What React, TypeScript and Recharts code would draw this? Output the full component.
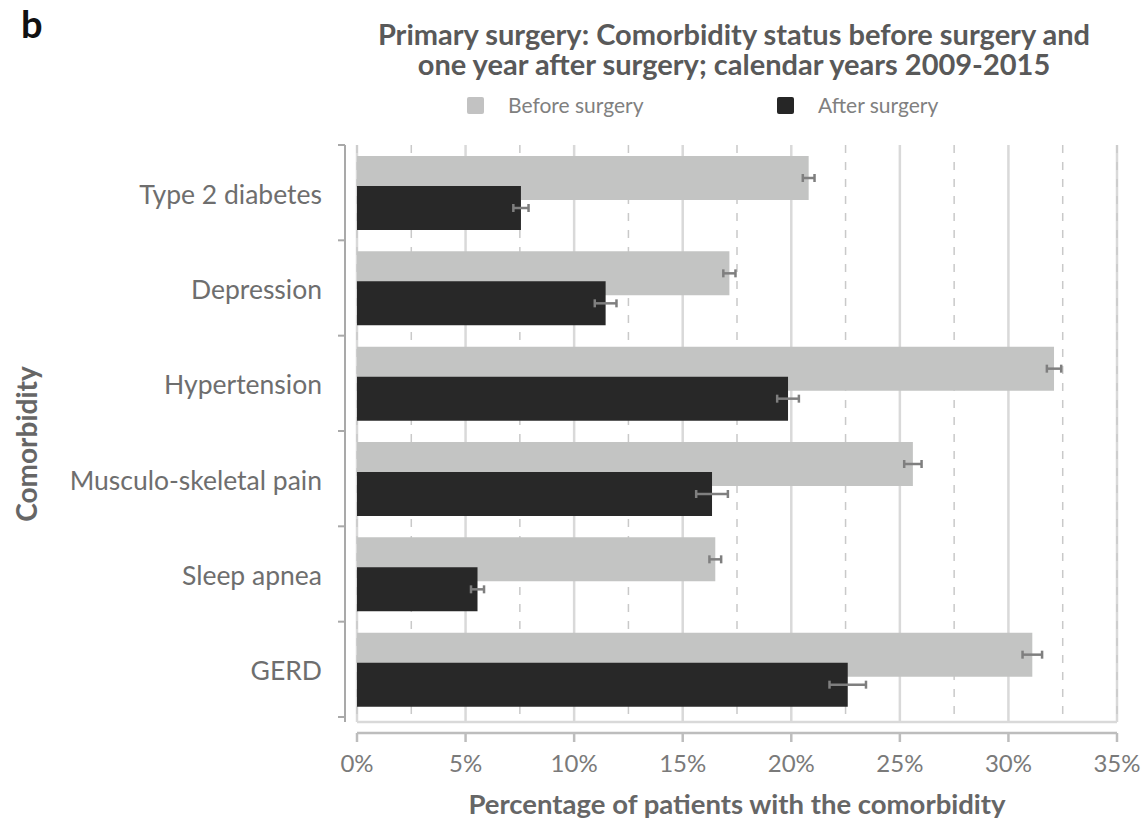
import React from 'react';
import { BarChart, Bar, XAxis, YAxis, CartesianGrid, ErrorBar, Legend } from 'recharts';

// Comorbidity prevalence (%) before and one year after primary surgery, 2009-2015
const categories = [
  'Type 2 diabetes',
  'Depression',
  'Hypertension',
  'Musculo-skeletal pain',
  'Sleep apnea',
  'GERD',
];
const beforeSurgery = [20.8, 17.15, 32.1, 25.6, 16.5, 31.1];
const beforeError = [0.27, 0.28, 0.33, 0.4, 0.27, 0.45];
const afterSurgery = [7.55, 11.45, 19.85, 16.35, 5.55, 22.6];
const afterError = [0.35, 0.5, 0.5, 0.73, 0.3, 0.84];

const majorTicks = [0, 5, 10, 15, 20, 25, 30, 35];
const minorTicks = [2.5, 7.5, 12.5, 17.5, 22.5, 27.5, 32.5];

const seriesNames = ['Before surgery', 'After surgery'];
const seriesColors = ['#c3c4c3', '#282828'];
const legendColors = ['#c2c2c2', '#262626'];

const data = categories.map((name, i) => ({
  name,
  before: beforeSurgery[i],
  beforeErr: beforeError[i],
  after: afterSurgery[i],
  afterErr: afterError[i],
}));

// Layout
const W = 1148;
const H = 825;
const MARGIN = { top: 145, right: 31, bottom: 0, left: 0 };
const OUTER_Y_W = 345;
const INNER_Y_W = 12;
const INNER_X_H = 11;
const OUTER_X_H = H - MARGIN.top - 577 - INNER_X_H;
const PAD_BOTTOM = 5;
const AXIS_X = MARGIN.left + OUTER_Y_W;
const PLOT_H = H - MARGIN.top - MARGIN.bottom - INNER_X_H - OUTER_X_H;
const BAND = (PLOT_H - PAD_BOTTOM) / categories.length;

const FONT = 'Lato, "Open Sans", "Noto Sans", sans-serif';
const AXIS_GREY = '#a9a9a9';

const NoTick = () => <g />;

const CategoryTick = (props: any) => {
  const { y, payload, index } = props;
  const top = y - BAND / 2;
  const bottom = y + BAND / 2;
  return (
    <g>
      <line x1={AXIS_X - 7} x2={AXIS_X} y1={top} y2={top} stroke={AXIS_GREY} strokeWidth={2} />
      {index === categories.length - 1 && (
        <line x1={AXIS_X - 7} x2={AXIS_X} y1={bottom} y2={bottom} stroke={AXIS_GREY} strokeWidth={2} />
      )}
      <text
        x={AXIS_X - 23}
        y={y}
        dy="0.42em"
        textAnchor="end"
        fontFamily={FONT}
        fontSize={26.5}
        fill="#6e6e6e"
      >
        {payload.value}
      </text>
    </g>
  );
};

const LegendContent = () => {
  const items = [
    { rectX: 467, textX: 508 },
    { rectX: 777, textX: 818 },
  ];
  return (
    <svg width={W} height={32} style={{ display: 'block' }}>
      {items.map((it, i) => (
        <g key={seriesNames[i]}>
          <rect x={it.rectX} y={9} width={17} height={17} rx={2} fill={legendColors[i]} />
          <text x={it.textX} y={24.5} fontFamily={FONT} fontSize={21} fill="#808080">
            {seriesNames[i]}
          </text>
        </g>
      ))}
    </svg>
  );
};

export default function App() {
  return (
    <div style={{ position: 'absolute', left: 0, top: 0, width: W, height: H, background: '#fff' }}>
      <BarChart
        width={W}
        height={H}
        data={data}
        layout="vertical"
        margin={MARGIN}
        barSize={44}
        barGap={-14}
      >
        {/* solid lines every 5% */}
        <CartesianGrid
          xAxisId="scale"
          yAxisId="bars"
          horizontal={false}
          stroke="#d9d9d9"
          strokeWidth={2.5}
        />
        {/* dashed lines at the half steps */}
        <CartesianGrid
          xAxisId="bars"
          yAxisId="bars"
          horizontal={false}
          stroke="#c9c9c9"
          strokeWidth={1.5}
          strokeDasharray="8 9"
        />
        <XAxis
          xAxisId="bars"
          type="number"
          domain={[0, 35]}
          allowDataOverflow
          ticks={minorTicks}
          interval={0}
          height={INNER_X_H}
          axisLine={{ stroke: '#d9d9d9', strokeWidth: 2.5 }}
          tickLine={false}
          tick={<NoTick />}
        />
        <XAxis
          xAxisId="scale"
          type="number"
          domain={[0, 35]}
          allowDataOverflow
          ticks={majorTicks}
          interval={0}
          height={OUTER_X_H}
          axisLine={{ stroke: '#bdbdbd', strokeWidth: 2.5 }}
          tickLine={{ stroke: '#bdbdbd', strokeWidth: 2.5 }}
          tickSize={9}
          tickMargin={13}
          tickFormatter={(v: number) => `${v}%`}
          tick={{ fill: '#7a7a7a', fontSize: 24, fontFamily: FONT }}
          label={{
            value: 'Percentage of patients with the comorbidity',
            position: 'insideBottom',
            offset: 11,
            style: { fill: '#666666', fontSize: 27.5, fontWeight: 700, fontFamily: FONT },
          }}
        />
        <YAxis
          yAxisId="bars"
          type="category"
          dataKey="name"
          width={INNER_Y_W}
          padding={{ top: 0, bottom: PAD_BOTTOM }}
          axisLine={false}
          tickLine={false}
          tick={false}
        />
        <YAxis
          yAxisId="labels"
          type="category"
          dataKey="name"
          width={OUTER_Y_W}
          padding={{ top: 0, bottom: PAD_BOTTOM }}
          interval={0}
          axisLine={{ stroke: AXIS_GREY, strokeWidth: 2 }}
          tickLine={false}
          tick={<CategoryTick />}
        />
        <Legend
          layout="horizontal"
          verticalAlign="middle"
          align="center"
          content={<LegendContent />}
          wrapperStyle={{ top: 88, left: 0, width: W, height: 32 }}
        />
        <Bar
          xAxisId="bars"
          yAxisId="bars"
          dataKey="before"
          name={seriesNames[0]}
          fill={seriesColors[0]}
          isAnimationActive={false}
        >
          <ErrorBar dataKey="beforeErr" direction="x" width={4} stroke="#7f7f7f" strokeWidth={2.5} />
        </Bar>
        <Bar
          xAxisId="bars"
          yAxisId="bars"
          dataKey="after"
          name={seriesNames[1]}
          fill={seriesColors[1]}
          isAnimationActive={false}
        >
          <ErrorBar dataKey="afterErr" direction="x" width={4} stroke="#7f7f7f" strokeWidth={2.5} />
        </Bar>
      </BarChart>
      <svg
        width={W}
        height={H}
        style={{ position: 'absolute', left: 0, top: 0, pointerEvents: 'none' }}
      >
        <text x={21} y={38} fontFamily={FONT} fontSize={38} fontWeight={700} fill="#111111">
          b
        </text>
        <text textAnchor="middle" fontFamily={FONT} fontSize={29} fontWeight={700} fill="#595959">
          <tspan x={734} y={45}>
            Primary surgery: Comorbidity status before surgery and
          </tspan>
          <tspan x={734} y={75}>
            one year after surgery; calendar years 2009-2015
          </tspan>
        </text>
        <text
          transform="translate(37, 444) rotate(-90)"
          textAnchor="middle"
          fontFamily={FONT}
          fontSize={28}
          fontWeight={700}
          fill="#666666"
        >
          Comorbidity
        </text>
      </svg>
    </div>
  );
}
